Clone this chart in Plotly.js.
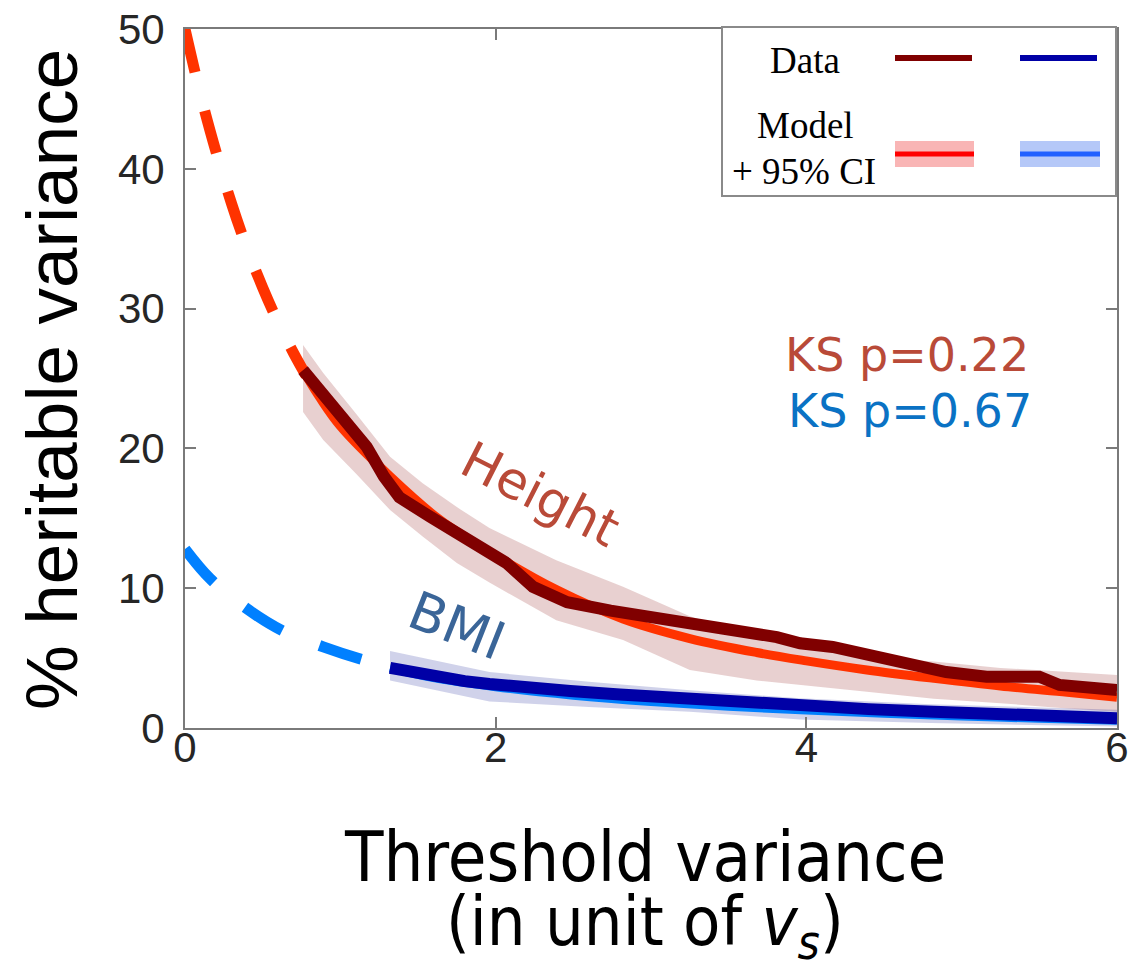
<!DOCTYPE html>
<html>
<head>
<meta charset="utf-8">
<script src="https://cdn.plot.ly/plotly-3.0.1.min.js"></script>
<style>html,body{margin:0;padding:0;background:#fff;}#chart{width:1133px;height:969px;}</style>
</head>
<body>
<div id="chart"></div>
<script>
// ---------- data ----------
// Height: model (dashed extrapolation + solid fit)
const heightModelDashX = [0, 0.1, 0.2, 0.3, 0.4, 0.5, 0.6, 0.7, 0.78];
const heightModelDashY = [50, 45.3, 41.2, 37.5, 34.3, 31.5, 29.0, 26.8, 25.2];
const heightModelX = [0.78, 0.87, 1.0, 1.32, 1.64, 1.96, 2.39, 2.82, 3.25, 3.68, 4.0, 4.39, 4.82, 5.25, 5.68, 6.0];
const heightModelY = [25.2, 23.6, 21.6, 18.0, 14.9, 12.6, 9.9, 7.8, 6.4, 5.4, 4.8, 4.15, 3.55, 3.0, 2.55, 2.2];
// Height: 95% CI band
const heightBandX = [0.76, 0.89, 1.10, 1.32, 1.53, 1.75, 1.96, 2.39, 2.82, 3.25, 3.68, 4.02, 4.39, 4.82, 5.25, 5.68, 6.0];
const heightBandUp = [27.4, 25.4, 22.5, 19.4, 17.5, 15.8, 14.3, 12.0, 10.1, 8.0, 6.5, 5.6, 5.1, 4.75, 4.3, 4.0, 3.8];
const heightBandLo = [22.6, 20.6, 18.2, 15.6, 13.7, 11.8, 10.4, 7.7, 6.3, 4.15, 3.4, 3.0, 2.6, 2.1, 1.77, 1.4, 1.17];
// Height: data
const heightDataX = [0.76, 1.0, 1.17, 1.28, 1.38, 1.58, 1.79, 2.07, 2.24, 2.46, 2.74, 3.0, 3.21, 3.47, 3.81, 3.96, 4.17, 4.45, 4.6, 4.9, 5.16, 5.5, 5.63, 6.0];
const heightDataY = [25.6, 22.5, 20.1, 18.0, 16.5, 15.1, 13.6, 11.8, 10.1, 9.0, 8.4, 8.0, 7.5, 7.1, 6.5, 6.06, 5.8, 5.1, 4.86, 4.0, 3.67, 3.67, 3.08, 2.72];

// BMI: model
const bmiModelDashX = [0, 0.16, 0.39, 0.62, 0.89, 1.14, 1.32];
const bmiModelDashY = [12.8, 10.7, 8.6, 7.0, 5.8, 4.9, 4.4];
const bmiModelX = [1.32, 1.6, 2.0, 2.5, 3.0, 3.5, 4.0, 4.5, 5.0, 5.5, 6.0];
const bmiModelY = [4.3, 3.6, 2.95, 2.35, 1.9, 1.55, 1.28, 1.05, 0.85, 0.7, 0.55];
// BMI: 95% CI band
const bmiBandX = [1.32, 1.96, 2.6, 3.25, 3.96, 4.8, 6.0];
const bmiBandUp = [5.5, 4.0, 3.3, 2.7, 2.12, 1.7, 1.3];
const bmiBandLo = [3.4, 1.9, 1.5, 1.17, 0.6, 0.35, 0.1];
// BMI: data
const bmiDataX = [1.32, 1.45, 1.62, 1.8, 1.96, 2.2, 2.48, 2.8, 3.25, 3.6, 4.0, 4.4, 4.82, 5.25, 5.6, 6.0];
const bmiDataY = [4.3, 4.0, 3.6, 3.35, 3.15, 2.85, 2.65, 2.4, 2.1, 1.8, 1.5, 1.35, 1.17, 0.95, 0.85, 0.7];

// axis ticks
const xTicks = [0, 2, 4, 6];
const yTicks = [0, 10, 20, 30, 40, 50];

// text labels
const ksHeight = 'KS p=0.22';
const ksBmi = 'KS p=0.67';

// ---------- layout geometry ----------
const W = 1133, H = 969;
const L = 185, R = 1117, T = 29, B = 728;
const px = v => (v - L) / (R - L);
const py = v => (B - v) / (B - T);

function band(x, up, lo) {
  return {x: x.concat(x.slice().reverse()), y: up.concat(lo.slice().reverse())};
}
const hb = band(heightBandX, heightBandUp, heightBandLo);
const bb = band(bmiBandX, bmiBandUp, bmiBandLo);

const traces = [
  {x: hb.x, y: hb.y, fill: 'toself', fillcolor: 'rgba(140,20,20,0.2)', line: {width: 0}, mode: 'lines', hoverinfo: 'skip'},
  {x: bb.x, y: bb.y, fill: 'toself', fillcolor: 'rgba(20,30,150,0.2)', line: {width: 0}, mode: 'lines', hoverinfo: 'skip'},
  {x: heightModelDashX, y: heightModelDashY, mode: 'lines', line: {color: '#ff3300', width: 11, dash: '44px,40px', shape: 'spline'}},
  {x: heightModelX, y: heightModelY, mode: 'lines', line: {color: '#ff3300', width: 9, shape: 'spline'}},
  {x: bmiModelDashX, y: bmiModelDashY, mode: 'lines', line: {color: '#0080ff', width: 11, dash: '44px,40px', shape: 'spline'}},
  {x: bmiModelX, y: bmiModelY, mode: 'lines', line: {color: '#0080ff', width: 9, shape: 'spline'}},
  {x: heightDataX, y: heightDataY, mode: 'lines', line: {color: '#800000', width: 12}},
  {x: bmiDataX, y: bmiDataY, mode: 'lines', line: {color: '#0000a6', width: 12}}
];

const axisCommon = {
  showline: true, linecolor: '#7a7a7a', linewidth: 2, mirror: 'ticks',
  ticks: 'inside', ticklen: 11, tickwidth: 2, tickcolor: '#7a7a7a',
  showgrid: false, zeroline: false,
  tickfont: {family: 'Liberation Sans, Arial, sans-serif', size: 42, color: '#262626'}
};

const serif = 'Liberation Serif, Times New Roman, serif';
const shapes = [
  {type: 'rect', xref: 'paper', yref: 'paper', x0: px(722), x1: px(1116), y0: py(196), y1: py(27), line: {color: '#8a8a8a', width: 2}, fillcolor: 'white', layer: 'above'},
  {type: 'line', xref: 'paper', yref: 'paper', x0: px(895), x1: px(972), y0: py(58), y1: py(58), line: {color: '#800000', width: 6}, layer: 'above'},
  {type: 'line', xref: 'paper', yref: 'paper', x0: px(1020), x1: px(1097), y0: py(58), y1: py(58), line: {color: '#0000a6', width: 6}, layer: 'above'},
  {type: 'rect', xref: 'paper', yref: 'paper', x0: px(895), x1: px(974), y0: py(167), y1: py(141), line: {width: 0}, fillcolor: '#f9b5b5', layer: 'above'},
  {type: 'line', xref: 'paper', yref: 'paper', x0: px(895), x1: px(974), y0: py(154), y1: py(154), line: {color: '#ff0000', width: 5}, layer: 'above'},
  {type: 'rect', xref: 'paper', yref: 'paper', x0: px(1020), x1: px(1100), y0: py(167), y1: py(141), line: {width: 0}, fillcolor: '#b5c8f8', layer: 'above'},
  {type: 'line', xref: 'paper', yref: 'paper', x0: px(1020), x1: px(1100), y0: py(154), y1: py(154), line: {color: '#2060ff', width: 5}, layer: 'above'}
];

const annotations = [
  {xref: 'paper', yref: 'paper', x: px(805), y: py(60), text: 'Data', showarrow: false, xanchor: 'center', yanchor: 'middle', font: {family: serif, size: 37, color: '#000'}},
  {xref: 'paper', yref: 'paper', x: px(805), y: py(126), text: 'Model', showarrow: false, xanchor: 'center', yanchor: 'middle', font: {family: serif, size: 37, color: '#000'}},
  {xref: 'paper', yref: 'paper', x: px(804), y: py(171), text: '+ 95% CI', showarrow: false, xanchor: 'center', yanchor: 'middle', font: {family: serif, size: 37, color: '#000'}},
  {x: 2.29, y: 16.7, text: 'Height', showarrow: false, textangle: 27, font: {family: 'DejaVu Sans, sans-serif', size: 51, color: '#b94a38'}},
  {x: 1.75, y: 7.3, text: 'BMI', showarrow: false, textangle: 21.6, font: {family: 'DejaVu Sans, sans-serif', size: 53, color: '#3a6598'}},
  {x: 4.65, y: 26.7, text: ksHeight, showarrow: false, font: {family: 'DejaVu Sans, sans-serif', size: 46, color: '#b94a38'}},
  {x: 4.67, y: 22.7, text: ksBmi, showarrow: false, font: {family: 'DejaVu Sans, sans-serif', size: 46, color: '#0a72c4'}},
  {xref: 'paper', yref: 'paper', x: px(52), y: py(380), text: '% heritable variance', showarrow: false, textangle: -90, xanchor: 'center', yanchor: 'middle', font: {family: 'Liberation Sans, Arial, sans-serif', size: 73, color: '#000'}},
  {xref: 'paper', yref: 'paper', x: px(645), y: py(857), text: 'Threshold variance', showarrow: false, xanchor: 'center', yanchor: 'middle', font: {family: 'DejaVu Sans Condensed, DejaVu Sans, sans-serif', size: 70, color: '#000'}},
  {xref: 'paper', yref: 'paper', x: px(645), y: py(926), text: '(in unit of <i>v</i><sub><i>s</i></sub>)', showarrow: false, xanchor: 'center', yanchor: 'middle', font: {family: 'DejaVu Sans Condensed, DejaVu Sans, sans-serif', size: 68, color: '#000'}}
];

const layout = {
  width: W, height: H,
  margin: {l: L, r: W - R, t: T, b: H - B, pad: 0},
  paper_bgcolor: '#fff', plot_bgcolor: '#fff',
  showlegend: false,
  xaxis: Object.assign({}, axisCommon, {range: [0, 6], tickvals: xTicks, ticktext: xTicks.map(String), ticklabelstandoff: -18}),
  yaxis: Object.assign({}, axisCommon, {range: [0, 50], tickvals: yTicks, ticktext: yTicks.map(String), ticklabelstandoff: 10}),
  shapes: shapes,
  annotations: annotations
};

Plotly.newPlot('chart', traces, layout, {displayModeBar: false, staticPlot: true});
</script>
</body>
</html>
